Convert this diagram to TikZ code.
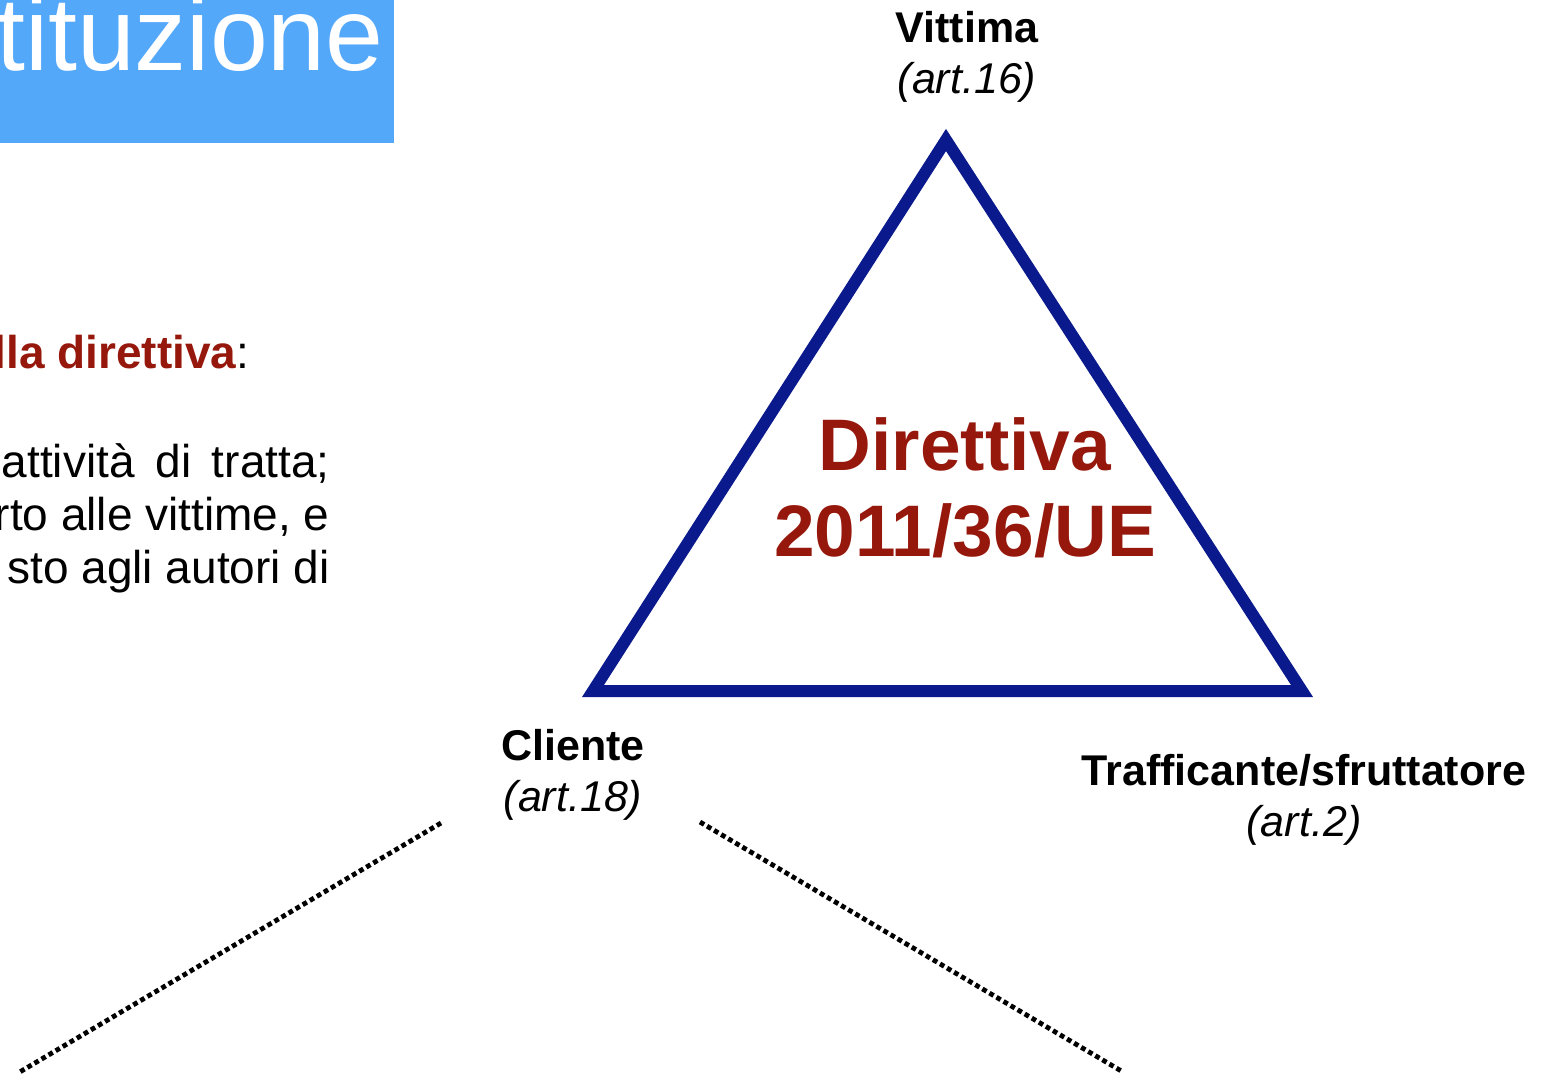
\documentclass[tikz,border=0pt]{standalone}
\usepackage{fontspec}
\setmainfont{Liberation Sans}
\definecolor{titleblue}{RGB}{84,168,250}
\definecolor{navy}{RGB}{10,26,140}
\definecolor{darkred}{RGB}{150,24,12}
\newcommand\vertexlabel[5]{\node[name=#1, align=center, font=\fontsize{21.5}{25.5}\selectfont] at(#2,#3) {\textbf{#4}\\\textit{#5}};}

\begin{document}
\begin{tikzpicture}[x=0.5pt, y=-0.5pt,
    plain/.style={font=\fontsize{23}{26.5}\selectfont, anchor=base east, inner sep=0pt},
    big/.style={font=\fontsize{36.5}{43}\selectfont\bfseries, text=darkred, inner sep=0pt},
    dotline/.style={line width=2.4pt, dash pattern=on 2.4pt off 1.7pt}]
      \useasboundingbox (0,0) rectangle (1553,1077);

      % title band
      \fill[titleblue](0,0)rectangle(394,143);
      \node[name=title, anchor=base east, inner sep=0pt, text=white, font=\fontsize{52}{60}\selectfont] at(384,70) {stituzione};

      % left text
      \node[plain, name=head] at(250,368) {\textcolor{darkred}{\textbf{lla direttiva}}:};
      \node[plain, name=l1] at(330,477) {attivit\`a\hspace{0.45em}di\hspace{0.45em}tratta;};
      \node[plain, name=l2] at(330,530) {rto alle vittime, e};
      \node[plain, name=l3] at(330,583) {sto agli autori di};

      % triangle
      \coordinate (top) at(946,140);
      \coordinate (left) at(593,691);
      \coordinate (right) at(1302,691);
      \draw[navy, line width=6pt, line join=miter](top)--(left)--(right)--cycle;

      \node[big, name=dir] at(965,444) {Direttiva};
      \node[big, name=num] at(965,531) {2011/36/UE};

      % vertex labels
      \vertexlabel{vittima}{967}{57}{Vittima}{(art.16)}
      \vertexlabel{cliente}{573}{775}{Cliente}{(art.18)}
      \vertexlabel{traff}{1304}{800}{Trafficante/sfruttatore}{(art.2)}

      % dotted branches
      \coordinate (lend) at(18,1073);
      \coordinate (rend) at(1123,1072);
      \coordinate (lstart) at(441,823);
      \coordinate (rstart) at(700,822);
      \draw[dotline](lstart)--(lend);
      \draw[dotline](rstart)--(rend);
    \end{tikzpicture}
\end{document}
